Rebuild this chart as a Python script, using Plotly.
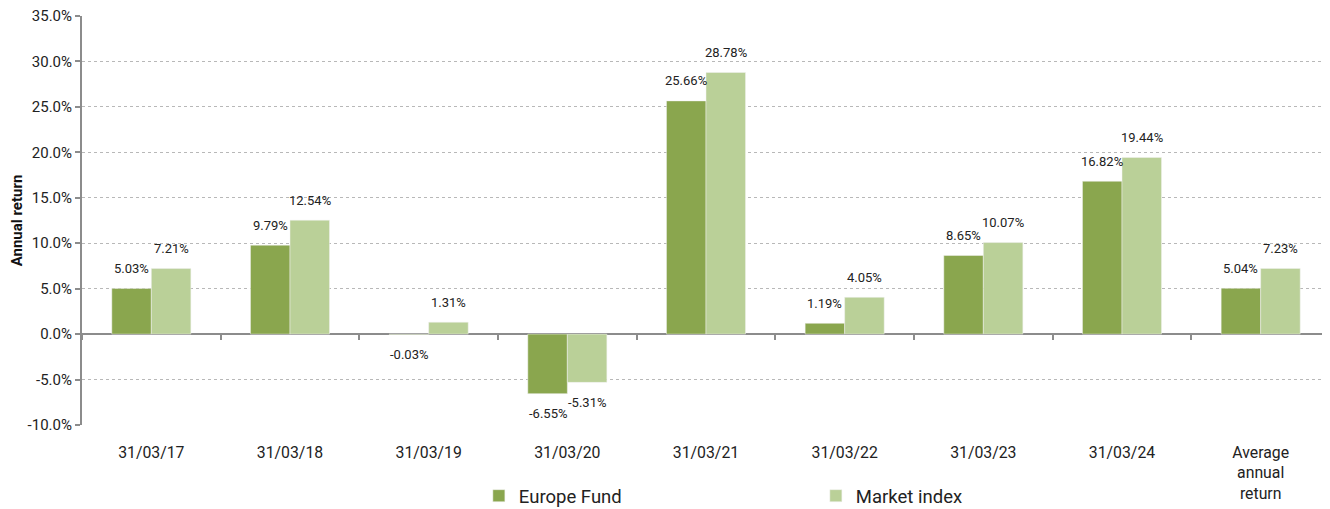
import plotly.graph_objects as go

categories = ["31/03/17", "31/03/18", "31/03/19", "31/03/20", "31/03/21",
              "31/03/22", "31/03/23", "31/03/24", "Average<br>annual<br>return"]
fund = [5.03, 9.79, -0.03, -6.55, 25.66, 1.19, 8.65, 16.82, 5.04]
index = [7.21, 12.54, 1.31, -5.31, 28.78, 4.05, 10.07, 19.44, 7.23]
series_names = ["Europe Fund", "Market index"]
y_ticks = [-10, -5, 0, 5, 10, 15, 20, 25, 30, 35]

FONT = "Roboto"
c_fund = "#8aa64e"
c_index = "#bad098"

fig = go.Figure()
fig.add_trace(go.Bar(x=categories, y=fund, name=series_names[0], marker_color=c_fund,
                     marker_line_width=0.5, marker_line_color="#f0f0f0"))
fig.add_trace(go.Bar(x=categories, y=index, name=series_names[1], marker_color=c_index,
                     marker_line_width=0.5, marker_line_color="#f0f0f0"))
# invisible helper trace for the category tick marks on the zero line
fig.add_trace(go.Scatter(x=categories, y=[0]*len(categories), xaxis="x2", yaxis="y",
                         mode="markers", marker_opacity=0, showlegend=False, hoverinfo="skip"))

# data labels
plot_w = 1248
cat_w = plot_w / len(categories)
bargap = 0.43
bar_w = cat_w * (1 - bargap) / 2
for vals, sign in ((fund, -1), (index, 1)):
    for c, v in zip(categories, vals):
        fig.add_annotation(x=c, y=v, text=f"{v:.2f}%", showarrow=False,
                           xshift=sign * bar_w / 2, yshift=20 if v >= 0 else -20,
                           font=dict(family=FONT, size=13, color="#222"),
                           yanchor="middle", xanchor="center")

zero_pos = (0 - y_ticks[0]) / (y_ticks[-1] - y_ticks[0])

fig.update_layout(
    width=1322, height=501,
    margin=dict(l=74, r=0, t=8, b=84, autoexpand=False),
    paper_bgcolor="white", plot_bgcolor="white",
    barmode="group", bargap=bargap, bargroupgap=0,
    font=dict(family=FONT, size=15, color="#222"),
    xaxis=dict(type="category", categoryorder="array", categoryarray=categories,
               range=[-0.5, len(categories) - 0.5], automargin=False,
               showline=False, ticks="", showgrid=False, ticklabelstandoff=16,
               tickfont=dict(family=FONT, size=15.8, color="#222")),
    xaxis2=dict(type="category", categoryorder="array", categoryarray=categories,
                range=[-0.5, len(categories) - 0.5], overlaying="x",
                anchor="free", position=zero_pos, side="bottom", automargin=False,
                showline=False, showticklabels=False, showgrid=False,
                ticks="outside", tickson="boundaries", ticklen=5,
                tickcolor="#8c8c8c", tickwidth=2),
    yaxis=dict(range=[y_ticks[0], y_ticks[-1]], tickvals=y_ticks, automargin=False,
               ticktext=[f"{t:.1f}%" for t in y_ticks], ticklabeloverflow="allow",
               showgrid=True, gridcolor="#b8b8b8", griddash="dot", gridwidth=1,
               zeroline=True, zerolinecolor="#8c8c8c", zerolinewidth=2,
               showline=True, linecolor="#8c8c8c", linewidth=2,
               ticks="outside", ticklen=5, tickcolor="#8c8c8c", tickwidth=2,
               tickfont=dict(family=FONT, size=15, color="#222"),
               title=dict(text="<b>Annual return</b>", standoff=4,
                          font=dict(family=FONT, size=15, color="#111"))),
    legend=dict(orientation="h", x=0.318, xanchor="left", y=-0.174, yanchor="middle",
                entrywidth=292, entrywidthmode="pixels",
                font=dict(family=FONT, size=18.5, color="#222"),
                itemwidth=30, traceorder="normal"),
)

fig.write_html("out.html")
